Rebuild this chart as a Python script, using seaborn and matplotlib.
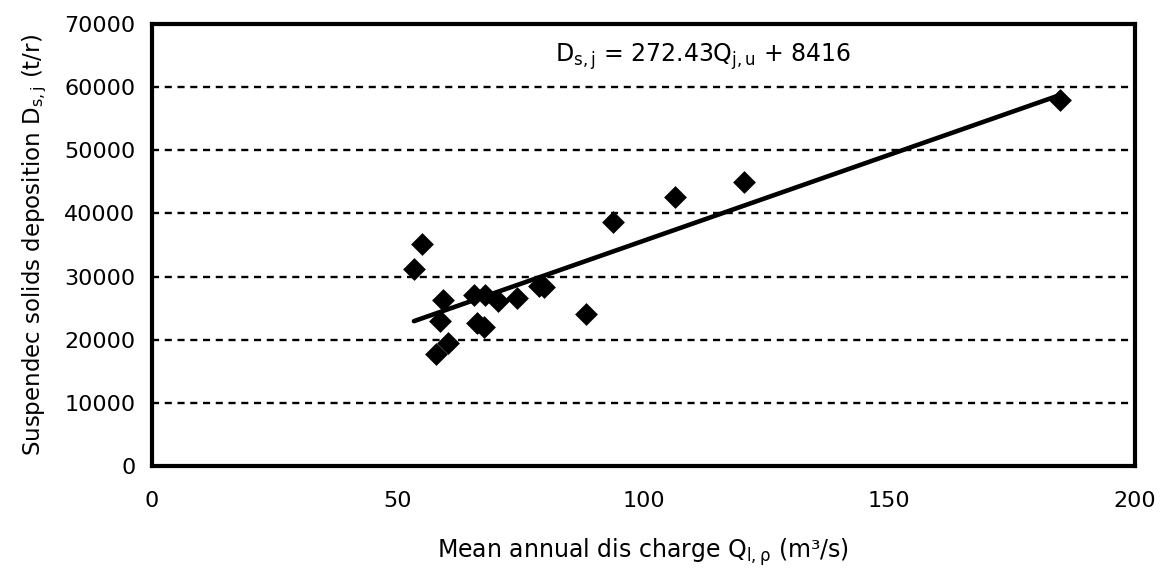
import matplotlib
matplotlib.use("Agg")
import matplotlib.pyplot as plt
import seaborn as sns
import pandas as pd

# Mean annual discharge (m3/s) and suspended solids deposition (t/r)
discharge = [53.3, 54.9, 57.8, 58.7, 59.3, 60.3, 65.5, 66.2, 67.6, 67.8,
             70.5, 74.2, 78.7, 79.8, 88.4, 93.7, 106.4, 120.4, 184.7]
deposition = [31200, 35200, 17800, 22900, 26300, 19500, 27100, 22600, 22000, 27100,
              26100, 26600, 28500, 28400, 24000, 38700, 42600, 44900, 57900]

# Linear trend coefficients
slope = 272.43
intercept = 8416

x_ticks = [0, 50, 100, 150, 200]
y_ticks = [0, 10000, 20000, 30000, 40000, 50000, 60000, 70000]

sns.set_theme(style="white")
plt.rcParams["font.family"] = ["DejaVu Sans"]
plt.rcParams["mathtext.fontset"] = "custom"
plt.rcParams["mathtext.rm"] = "DejaVu Sans"
plt.rcParams["mathtext.it"] = "DejaVu Sans"

df = pd.DataFrame({"Q": discharge, "D": deposition})
q_min, q_max = min(discharge), max(discharge)
trend = pd.DataFrame({"Q": [q_min, q_max],
                      "D": [slope * q_min + intercept, slope * q_max + intercept]})

fig = plt.figure(figsize=(11.61, 5.78), dpi=100)
ax = fig.add_axes([0.1309, 0.1938, 0.9776 - 0.1309, 0.9585 - 0.1938])

# dashed horizontal gridlines
for yv in y_ticks[1:-1]:
    ax.axhline(yv, color="black", lw=1.7, ls=(0, (3.0, 2.4)), zorder=1)

sns.lineplot(data=trend, x="Q", y="D", ax=ax, color="black", lw=3.3, zorder=3)
sns.scatterplot(data=df, x="Q", y="D", ax=ax, marker="D", color="black",
                s=135, edgecolor="black", linewidth=0, zorder=4)

ax.set_xlim(0, 200)
ax.set_ylim(0, 70000)
ax.set_xticks(x_ticks)
ax.set_yticks(y_ticks)
ax.tick_params(axis="both", labelsize=16, colors="black", direction="out",
               length=6, width=1.5)
ax.tick_params(axis="x", pad=12)
ax.tick_params(axis="y", pad=6)

for sp in ax.spines.values():
    sp.set_visible(True)
    sp.set_color("black")
    sp.set_linewidth(3.0)

ax.set_xlabel(r"Mean annual dis charge Q$_{\mathrm{l,\rho}}$ (m³/s)",
              fontsize=17, color="black", labelpad=18)
ax.set_ylabel(r"Suspendec solids deposition D$_{\mathrm{s,j}}$ (t/r)",
              fontsize=16.5, color="black", labelpad=11)

ax.text(82, 64900, r"D$_{\mathrm{s,j}}$ = 272.43Q$_{\mathrm{j,u}}$ + 8416",
        fontsize=17, color="black", ha="left", va="center")

fig.savefig("out.png", dpi=100, facecolor="white")
